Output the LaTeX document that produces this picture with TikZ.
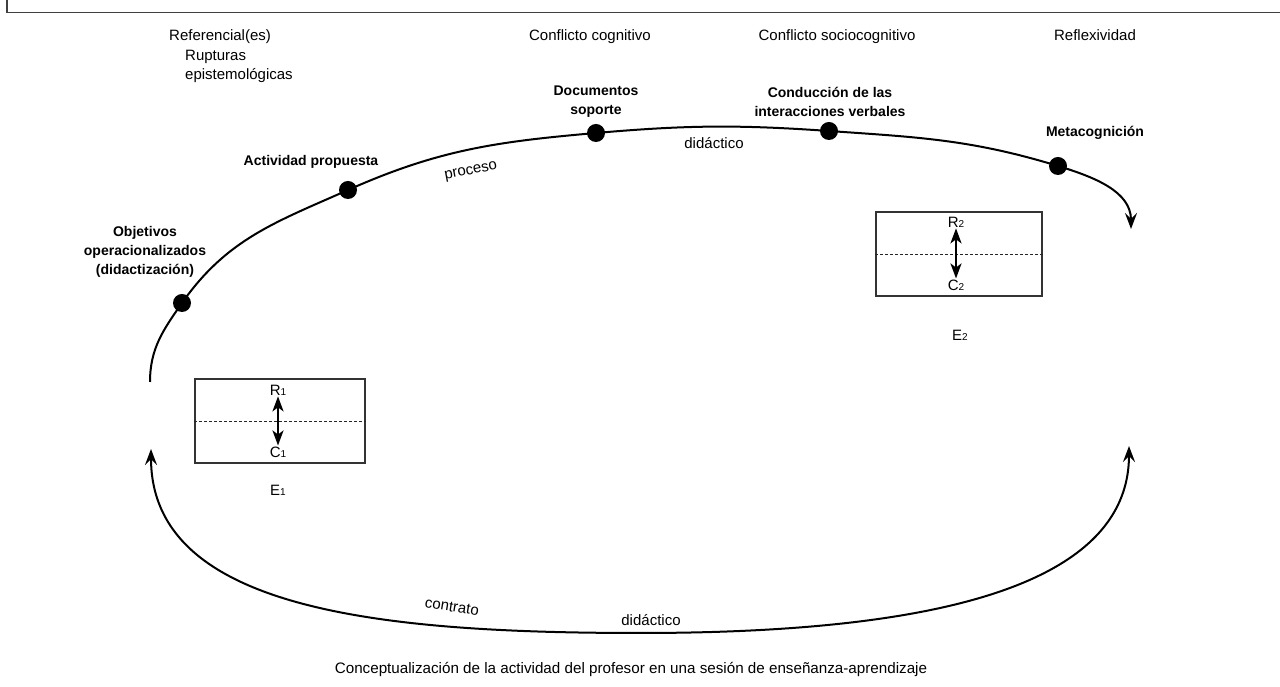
\documentclass[tikz,border=0pt]{standalone}
\usepackage{fontspec}
\setmainfont{Liberation Sans}
\usetikzlibrary{arrows.meta}
\newcommand\mysub[1]{{\fontsize{10}{10}\selectfont #1}}
\begin{document}
\begin{tikzpicture}[x=1pt,y=1pt,
  lbl/.style={inner sep=0pt, font=\fontsize{15}{19.5}\selectfont, align=center},
  blbl/.style={inner sep=0pt, font=\fontsize{14}{19}\selectfont\bfseries, align=center},
  dot/.style={circle, fill=black, inner sep=0pt, minimum size=18pt},
  flow/.style={line width=2pt, black},
  bigtip/.style={flow, -{Stealth[length=16pt,width=12pt,inset=6pt]}},
  bothtip/.style={flow, {Stealth[length=16pt,width=12pt,inset=6pt]}-{Stealth[length=16pt,width=12pt,inset=6pt]}},
  box/.style={draw=black!80, line width=1.2pt, minimum width=170pt, minimum height=84pt, inner sep=0pt},
  sub/.style={inner sep=1pt, font=\fontsize{15}{15}\selectfont},
  dbl/.style={line width=2.4pt, {Stealth[length=15pt,width=11pt,inset=4pt]}-{Stealth[length=15pt,width=11pt,inset=4pt]}},
  midline/.style={line width=0.8pt, dash pattern=on 3pt off 2pt, black!85},
  frame/.style={line width=1.6pt, black!75}
]
\useasboundingbox (0,0) rectangle (1280,687);

% frame (top and left edges only)
\coordinate (fb) at (7,687);
\coordinate (fc) at (7,674.5);
\coordinate (fr) at (1280,674.5);
\draw[frame] (fb) -- (fc) -- (fr);

% top header labels
\node[lbl, anchor=west, align=left] (ref) at (169,630.5) {Referencial(es)\\\hspace*{16pt}Rupturas\\\hspace*{16pt}epistemológicas};
\node[lbl] (cc) at (590,650) {Conflicto cognitivo};
\node[lbl] (cs) at (837,650) {Conflicto sociocognitivo};
\node[lbl] (rf) at (1095,652) {Reflexividad};

% dots on the upper arc
\coordinate (s) at (150,305);
\node[dot] (d1) at (182,384) {};
\node[dot] (d2) at (348,497) {};
\node[dot] (d3) at (596,554) {};
\node[dot] (d4) at (829,556) {};
\node[dot] (d5) at (1058,521) {};
\coordinate (e) at (1131,458);

\draw[bigtip] (s) to[out=90,in=235] (d1.center)
  to[out=55,in=204] (d2.center)
  to[out=24,in=185] (d3.center)
  to[out=5,in=176] (d4.center)
  to[out=-4,in=163] (d5.center)
  to[out=-17,in=90] (e);

% bold labels
\node[blbl] (obj) at (145,435) {Objetivos\\operacionalizados\\(didactización)};
\node[blbl] (act) at (311,525) {Actividad propuesta};
\node[blbl] (doc) at (596,585.5) {Documentos\\soporte};
\node[blbl] (con) at (830,585.5) {Conducción de las\\interacciones verbales};
\node[blbl] (met) at (1095,554) {Metacognición};

% arc labels
\node[lbl, rotate=11] (proc) at (471,515) {proceso};
\node[lbl] (did1) at (714,544) {didáctico};

% lower arc
\coordinate (L) at (151,238);
\coordinate (bm) at (640,54);
\coordinate (R) at (1129,241);
\draw[bothtip] (L) .. controls (151,77) and (380,54) .. (bm)
  .. controls (900,54) and (1129,90) .. (R);
\node[lbl, rotate=-9] (ctr) at (452,80) {contrato};
\node[lbl] (did2) at (651,67) {didáctico};

% box E1
\node[box] (b1) at (280,266) {};
\draw[midline] (b1.west) -- (b1.east);
\node[sub] (r1) at (278,297) {R\mysub{1}};
\node[sub] (c1) at (278,235) {C\mysub{1}};
\draw[dbl] (r1) -- (c1);
\node[lbl] (e1) at (278,197) {E\mysub{1}};

% box E2
\node[box, minimum width=166pt] (b2) at (959,433) {};
\draw[midline] (b2.west) -- (b2.east);
\node[sub] (r2) at (956,465) {R\mysub{2}};
\node[sub] (c2) at (956,402) {C\mysub{2}};
\draw[dbl] (r2) -- (c2);
\node[lbl] (e2) at (960,352) {E\mysub{2}};

% caption
\node[lbl, font=\fontsize{15.2}{19}\selectfont] (cap) at (631,18) {Conceptualización de la actividad del profesor en una sesión de enseñanza-aprendizaje};
\end{tikzpicture}
\end{document}
